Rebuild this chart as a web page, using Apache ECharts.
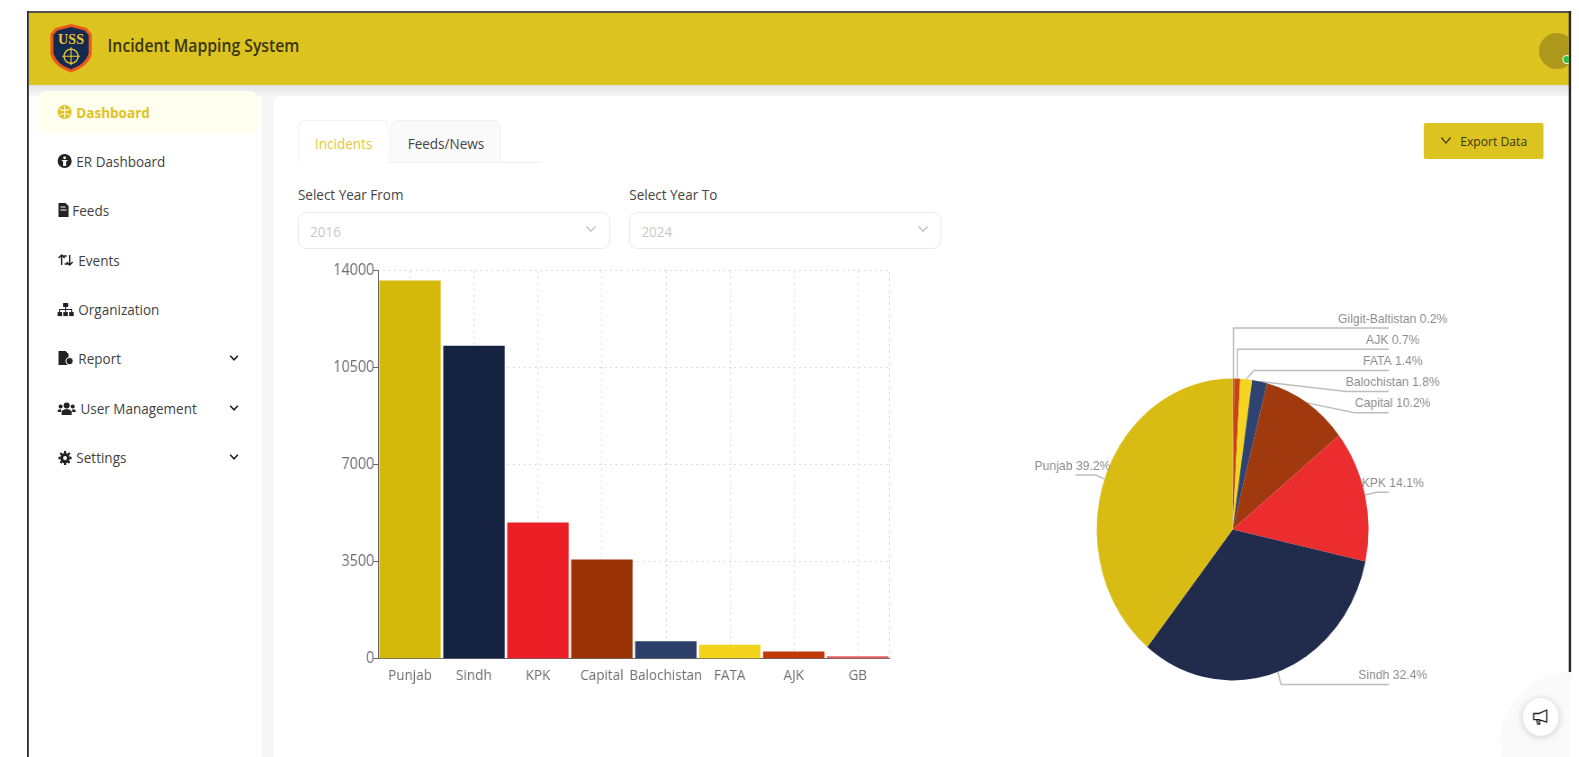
<!DOCTYPE html>
<html>
<head>
<meta charset="utf-8">
<title>Incident Mapping System</title>
<script src="https://cdn.jsdelivr.net/npm/echarts@6/dist/echarts.min.js"></script>
<style>
html,body{margin:0;padding:0;width:1579px;height:757px;overflow:hidden;background:#fff;}
#page{position:absolute;left:0;top:0;width:1754.5px;height:757px;transform:scaleX(.9);transform-origin:0 0;overflow:hidden;font-family:"Open Sans",sans-serif;filter:blur(.45px);}
#chart{position:absolute;left:0;top:0;width:1754.5px;height:757px;}
.b{position:absolute;box-sizing:border-box;white-space:nowrap;}
svg.b{overflow:visible;}
</style>
</head>
<body>
<div id="page"><div id="ui"></div><div id="chart"></div><div id="ui2"></div></div>
<script>
const categories = ['Punjab','Sindh','KPK','Capital','Balochistan','FATA','AJK','GB'];
const incidents  = [13650,11290,4909,3564,618,490,240,70];
const pieNames   = ['Punjab','Sindh','KPK','Capital','Balochistan','FATA','AJK','Gilgit-Baltistan'];
const barColors  = ['#D4B90A','#152340','#EB2026','#993204','#2C3F68','#F3D31B','#C13A06','#E2605E'];
const pieColors  = ['#D9BC13','#212C4D','#EC2D2F','#A03A0E','#2F4372','#F4D522','#C8440F','#E04A3A'];
const yTicks     = {min:0,max:14000,interval:3500};
const menuItems  = ['Dashboard','ER Dashboard','Feeds','Events','Organization','Report','User Management','Settings'];

const SX=.9, F=1.0065, FX=1.0072;
const mx=p=>(27+(p-27)*FX)/SX;
const ms=w=>w*FX/SX;
const my=p=>p*F;
const ui=document.getElementById('ui'), ui2=document.getElementById('ui2');
function box(x,y,w,h,css,text,host){const d=document.createElement('div');d.className='b';
  d.style.cssText=`left:${mx(x)}px;top:${my(y)}px;width:${ms(w)}px;height:${h*F}px;`+(css||'');
  if(text!=null)d.textContent=text;(host||ui).appendChild(d);return d;}
function txt(x,cy,text,size,color,extra,host){const d=document.createElement('div');d.className='b';
  d.style.cssText=`left:${mx(x)}px;top:${my(cy)-12}px;height:24px;line-height:24px;font-size:${size}px;color:${color};${extra||''}`;
  d.textContent=text;(host||ui).appendChild(d);return d;}
function svg(x,y,w,h,vb,inner,host){const d=document.createElement('div');d.className='b';
  d.style.cssText=`left:${mx(x)}px;top:${my(y)}px;width:${ms(w)}px;height:${h*F}px;`;
  d.innerHTML=`<svg viewBox="${vb}" preserveAspectRatio="none" width="100%" height="100%" style="display:block;overflow:visible">${inner}</svg>`;(host||ui).appendChild(d);}

// frame and header
box(29,84,1530,700,'background:#F6F6F6');
box(29,84,231,700,'background:#fff');
box(29,84,1530,11,'background:linear-gradient(#E3E3E3,#F6F6F6)');
box(272,95,1288,700,'background:#fff;border-radius:8px 0 0 0');
box(29,12,1530,72,'background:#DDC31F');
box(27,10.5,1533,2,'background:#55544a');
box(27,10.5,2,760,'background:#2a2a2a');
box(1558,10.5,2,760,'background:#2a2a2a');
// logo
svg(50,24,41,48,'0 0 41 48','<path d="M20.5 0 L36 4 L41 10 V30 Q38 42 20.5 48 Q3 42 0 30 V10 L5 4 Z" fill="#E8591A"/><path d="M20.5 3 L34 6.5 L38 11 V29 Q35 40 20.5 45 Q6 40 3 29 V11 L7 6.5 Z" fill="#16294F"/><text x="20.5" y="20" text-anchor="middle" font-family="Liberation Serif" font-weight="700" font-size="14" fill="#E8C92A">USS</text><circle cx="20.5" cy="32" r="7" fill="none" stroke="#E8C92A" stroke-width="1.4"/><path d="M20.5 23V41M11.5 32H29.5" stroke="#E8C92A" stroke-width="1.1"/>');
txt(107,45,'Incident Mapping System',17.5,'#3a360c','font-weight:600');
// avatar
const clip=box(1500,13,58,71,'overflow:hidden');
const av=document.createElement('div');av.className='b';av.style.cssText=`left:${ms(28)}px;top:20px;width:${ms(36)}px;height:36px;border-radius:50%;background:#AD981B`;clip.appendChild(av);
const dot=document.createElement('div');dot.className='b';dot.style.cssText=`left:${ms(51)}px;top:42px;width:${ms(9)}px;height:9px;border-radius:50%;background:#2DBE4E;border:1px solid #fff`;clip.appendChild(dot);
// sidebar
box(38,90,218,43,'background:#FFFEEF;border-radius:8px');
const rows=[111,160,209,258,307,356,405,454];
const tx=[76,76,72,78,78,78,80,76];
menuItems.forEach((m,i)=>{txt(tx[i],rows[i],m,15,i==0?'#E0C226':'#3F3F3F',i==0?'font-weight:700':'');});
const ic='#222';
svg(57,104,14,14,'0 0 14 14','<circle cx="7" cy="7" r="7" fill="#E0C226"/><path d="M7 1V13M2 4Q7 7 12 4M2 10Q7 7 12 10" stroke="#FFFDE9" stroke-width="1" fill="none"/>');
svg(57,153,14,14,'0 0 14 14',`<circle cx="7" cy="7" r="7" fill="${ic}"/><circle cx="7" cy="3.8" r="1.4" fill="#fff"/><path d="M3.5 6H10.5L8.5 7.5V12H5.5V7.5Z" fill="#fff"/>`);
svg(58,202,10,14,'0 0 10 14',`<path d="M0 0H7L10 3V14H0Z" fill="${ic}"/><path d="M2 4H7M2 7H8" stroke="#fff"/>`);
svg(57,252,16,12,'0 0 16 12',`<path d="M4 11V2M1 4L4 1L7 4M12 1V10M9 8L12 11L15 8M4 2H9M12 10H7" stroke="${ic}" stroke-width="1.4" fill="none"/>`);
svg(57,301,16,13,'0 0 16 13',`<rect x="5.5" y="0" width="5" height="4" fill="${ic}"/><rect x="0" y="9" width="4.5" height="4" fill="${ic}"/><rect x="5.7" y="9" width="4.5" height="4" fill="${ic}"/><rect x="11.5" y="9" width="4.5" height="4" fill="${ic}"/><path d="M8 4V9M2 9V6.5H14V9" stroke="${ic}" fill="none"/>`);
svg(58,349,15,14,'0 0 15 14',`<path d="M0 0H7L10 3V14H0Z" fill="${ic}"/><circle cx="11" cy="10" r="3.6" fill="${ic}" stroke="#fff"/>`);
svg(57,399,18,13,'0 0 18 13',`<circle cx="9" cy="3.5" r="3" fill="${ic}"/><path d="M4 13V9Q9 5 14 9V13Z" fill="${ic}"/><circle cx="3" cy="4.5" r="2" fill="${ic}"/><circle cx="15" cy="4.5" r="2" fill="${ic}"/><path d="M0 10V8.5Q2 6.5 3.5 7.5V10ZM18 10V8.5Q16 6.5 14.5 7.5V10Z" fill="${ic}"/>`);
svg(58,448,13,14,'0 0 14 14',`<circle cx="7" cy="7" r="3.6" fill="none" stroke="${ic}" stroke-width="3"/><path d="M7 0V14M0 7H14M2 2L12 12M12 2L2 12" stroke="${ic}" stroke-width="2.4" stroke-dasharray="2.4 9.2 2.4"/>`);
[356,405,454].forEach(y=>svg(228,y-3,9,6,'0 0 9 6',`<path d="M.7 .7L4.5 4.7L8.3 .7" stroke="${ic}" stroke-width="1.6" fill="none"/>`));
// tabs
box(296,161,241,1,'background:#EFEFEF');
box(296,119,90,43,'background:#fff;border:1px solid #F0F0F0;border-bottom:1px solid #fff;border-radius:8px 8px 0 0');
box(388,119,109,43,'background:#FAFAFA;border:1px solid #F0F0F0;border-radius:8px 8px 0 0');
txt(313,142,'Incidents',15,'#E3C838');
txt(405,142,'Feeds/News',15,'#444');
// selects
txt(296,193,'Select Year From',15,'#444');
txt(625,193,'Select Year To',15,'#444');
box(296,211,310,36,'border:1.5px solid #E9E9E9;border-radius:9px');
box(625,211,310,36,'border:1.5px solid #E9E9E9;border-radius:9px');
txt(308,230,'2016',15,'#C9C9C9');
txt(637,230,'2024',15,'#C9C9C9');
[582,912].forEach(x=>svg(x,225,10,6,'0 0 10 6','<path d="M.5 .5L5 5.2L9.5 .5" stroke="#BDBDBD" stroke-width="1.1" fill="none"/>'));
// export
box(1414,122,119,36,'background:#DDC31F;border-radius:2px');
svg(1431,136,10,7,'0 0 10 7','<path d="M.5 .5L5 6L9.5 .5" stroke="#3a360c" stroke-width="1.2" fill="none"/>');
txt(1450,140,'Export Data',13.5,'#3a360c');
// floating button
box(1490,668,140,140,'background:#FAFAFA;border-radius:50%',null,ui2);
box(1512,693,36,38,'background:#fff;border-radius:50%;box-shadow:0 1px 8px rgba(0,0,0,.2)',null,ui2);
svg(1522,704,16,16,'0 0 16 16','<path d="M14 1V13L6 10.5H1V4.5H6ZM4 10.5L5 15H7L6.5 11" stroke="#222" stroke-width="1.3" fill="none" stroke-linejoin="round"/>',ui2);
// white-out beyond the frame so that the floating halo stays inside
box(1560,0,40,757,'background:#fff',null,ui2);

// label rows: y of the horizontal leader, x of its elbow (null = straight above slice)
const labelRows={'Gilgit-Baltistan':[326,null],'AJK':[347,null],'FATA':[368,1245],'Balochistan':[389,1337],'Capital':[410,1345],'KPK':[489,1367],'Sindh':[680,1272],'Punjab':[472,1088]};
const leaderEndRight=1379, leaderEndLeft=1068, labelShift=4;

const pieData=pieNames.map((n,i)=>({name:n,value:incidents[i],itemStyle:{color:pieColors[i]}})).reverse();
const chart=echarts.init(document.getElementById('chart'),null,{renderer:'canvas'});
chart.setOption({
  animation:false,
  textStyle:{fontFamily:'Open Sans'},
  grid:{left:mx(375.5),width:ms(508),top:my(269),height:385*F,containLabel:false},
  xAxis:{type:'category',data:categories,
    axisLine:{lineStyle:{color:'#666',width:1}},
    axisTick:{alignWithLabel:true,length:5,lineStyle:{color:'#666'}},
    axisLabel:{color:'#6e6e6e',fontSize:15,margin:10,interval:0,fontFamily:'Open Sans'},
    splitLine:{show:true,alignWithLabel:true,lineStyle:{color:'#D8D8D8',type:[2,4],width:1}}},
  yAxis:[{type:'value',min:yTicks.min,max:yTicks.max,interval:yTicks.interval,
    axisLine:{show:true,lineStyle:{color:'#666'}},
    axisTick:{show:true,length:6,lineStyle:{color:'#666'}},
    axisLabel:{color:'#6e6e6e',fontSize:16,margin:4,fontFamily:'Open Sans',formatter:v=>String(v)},
    splitLine:{show:true,lineStyle:{color:'#D8D8D8',type:[2,4],width:1}}},
   {type:'value',position:'right',min:yTicks.min,max:yTicks.max,interval:yTicks.interval,
    axisLine:{show:true,lineStyle:{color:'#D8D8D8',type:[2,4]}},axisTick:{show:false},axisLabel:{show:false},splitLine:{show:false}}],
  series:[
   {type:'bar',yAxisIndex:0,barCategoryGap:'4%',
    data:incidents.map((v,i)=>({value:v,itemStyle:{color:barColors[i]}}))},
   {type:'pie',center:[mx(1224),my(526)],radius:151,startAngle:90,clockwise:true,percentPrecision:1,
    avoidLabelOverlap:false,data:pieData,
    label:{show:true,formatter:'{b} {d}%',color:'#8a8a8a',fontSize:13.5,fontFamily:'Liberation Sans'},
    labelLine:{show:true,length:10,length2:10,smooth:false,lineStyle:{color:'#BDBDBD',width:1.5}},
    labelLayout:function(p){
      const name=pieData[p.dataIndex].name, row=labelRows[name], pts=p.labelLinePoints;
      if(!pts) return {};
      const left=name==='Punjab', endX=mx(left?leaderEndLeft:leaderEndRight), y=my(row[0]);
      const elbow=row[1]==null?pts[0][0]:mx(row[1]);
      return {x:endX+ms(left?-3:labelShift),y:y-2,align:'center',verticalAlign:'bottom',
        labelLinePoints:[pts[0],[elbow,y],[endX,y]]};
    }}
  ]
});
</script>
</body>
</html>
